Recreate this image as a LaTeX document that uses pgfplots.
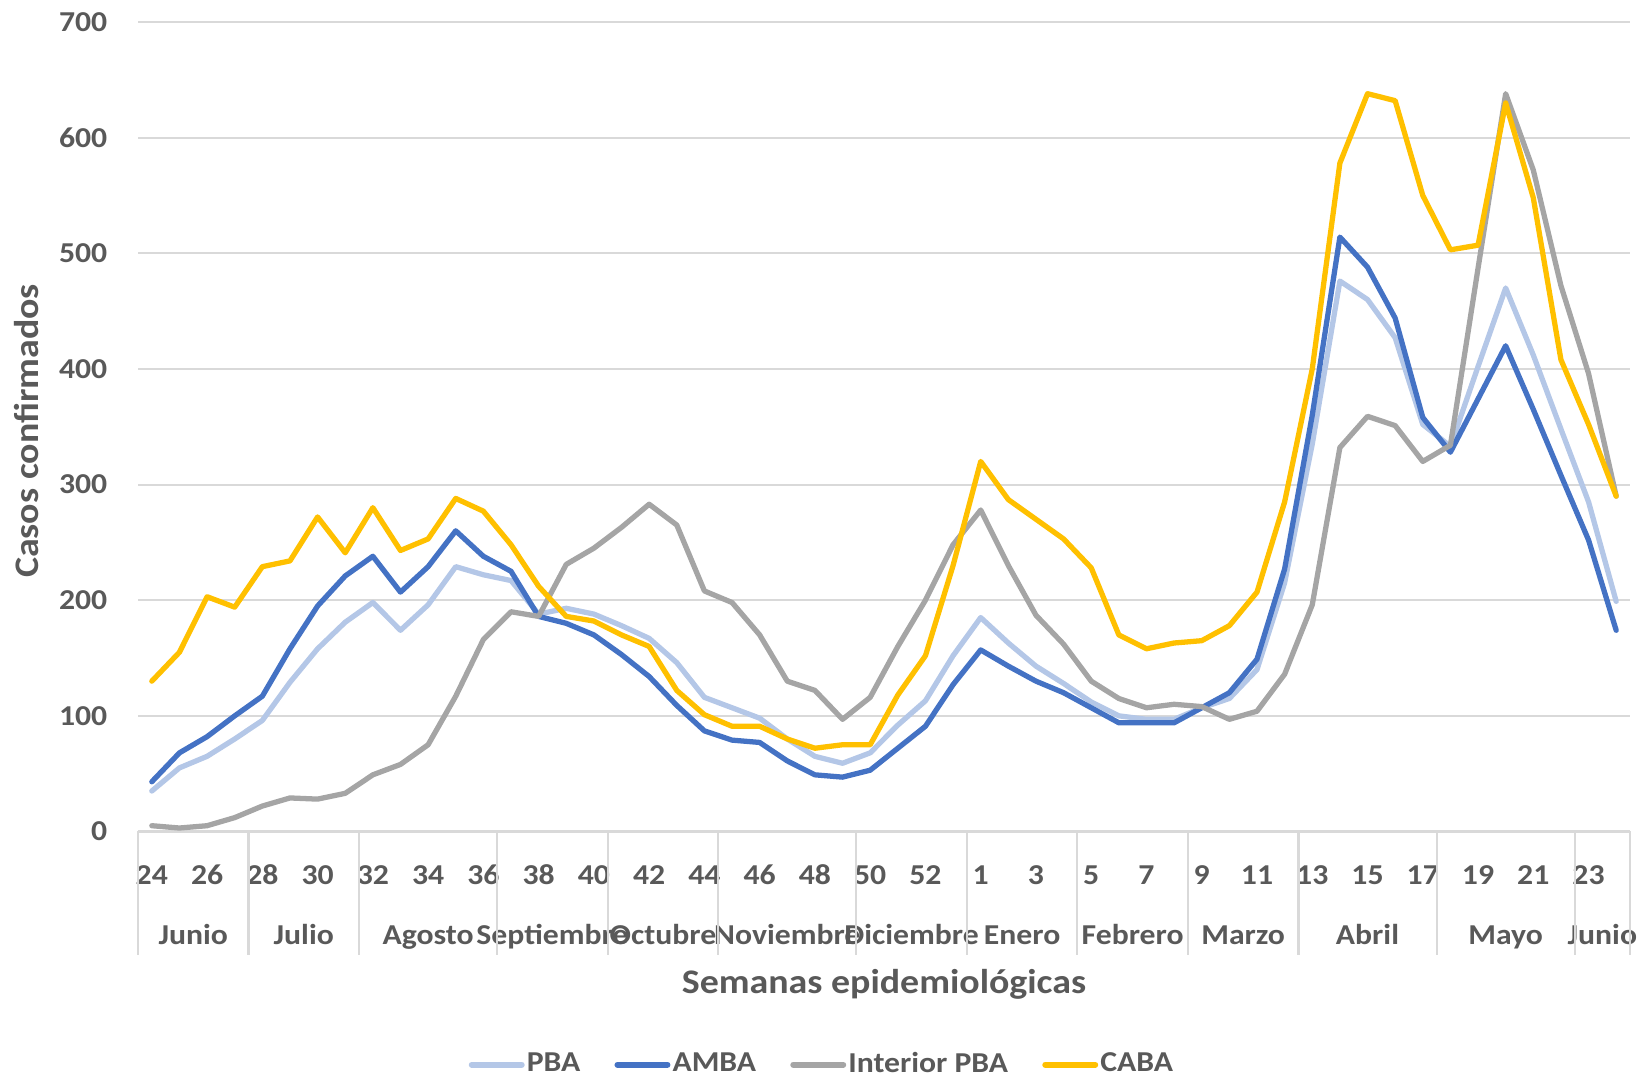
\documentclass[border=0pt]{standalone}
\usepackage{fontspec}
\setmainfont{Carlito}[FakeStretch=1.1]
\usepackage{pgfplots}
\usepackage{pgfplotstable}
\pgfplotsset{compat=1.18}
\definecolor{txt}{HTML}{595959}
\definecolor{gridc}{HTML}{D9D9D9}
\definecolor{cPBA}{HTML}{B4C7E7}
\definecolor{cAMBA}{HTML}{4472C4}
\definecolor{cINT}{HTML}{A5A5A5}
\definecolor{cCABA}{HTML}{FFC000}

\pgfplotstableread{
i  PBA AMBA INT CABA
0  35  43   5   130
1  55  68   3   155
2  65  82   5   203
3  80  100  12  194
4  96  117  22  229
5  129 158  29  234
6  158 195  28  272
7  181 221  33  241
8  198 238  49  280
9  174 207  58  243
10 196 229  75  253
11 229 260  117 288
12 222 238  166 277
13 217 225  190 248
14 188 186  186 212
15 193 180  231 186
16 188 170  245 182
17 178 153  263 170
18 167 134  283 160
19 146 109  265 122
20 116 87   208 101
21 107 79   198 91
22 98  77   170 91
23 80  61   130 80
24 65  49   122 72
25 59  47   97  75
26 68  53   116 75
27 92  72   160 118
28 113 91   200 152
29 152 127  248 230
30 185 157  278 320
31 163 143  230 287
32 143 130  187 270
33 128 120  162 253
34 112 107  130 228
35 100 94   115 170
36 97  94   107 158
37 97  94   110 163
38 107 107  108 165
39 115 120  97  178
40 140 149  104 207
41 215 227  136 285
42 335 360  196 400
43 476 514  332 578
44 460 488  359 638
45 427 444  351 632
46 352 358  320 550
47 333 328  334 503
48 402 374  487 507
49 470 420  638 630
50 412 365  572 548
51 348 308  472 408
52 285 252  396 352
53 199 174  290 290
}\data

\begin{document}
\begin{tikzpicture}
\begin{axis}[
  at={(13.8mm,24.55mm)}, anchor=south west,
  scale only axis, width=149.2mm, height=80.95mm,
  xmin=-0.5, xmax=53.5, ymin=0, ymax=700,
  clip=false,
  axis line style={draw=none},
  tick style={draw=none},
  major tick length=0pt,
  ymajorgrids,
  major grid style={gridc, line width=0.6pt},
  ytick={0,100,...,700},
  xtick={0,2,...,52},
  xticklabels={24,26,28,30,32,34,36,38,40,42,44,46,48,50,52,1,3,5,7,9,11,13,15,17,19,21,23},
  extra x ticks={1.5,5.5,10,14.5,18.5,23,27.5,31.5,35.5,39.5,44,49,52.5},
  extra x tick labels={Junio,Julio,Agosto,Septiembre,Octubre,Noviembre,Diciembre,Enero,Febrero,Marzo,Abril,Mayo,Junio},
  extra x tick style={grid=none, major tick length=0pt, xticklabel style={yshift=-6.0mm}},
  /pgf/number format/assume math mode=true,
  every tick label/.append style={font=\bfseries\fontsize{8.2}{10}\selectfont, text=txt},
  xticklabel style={anchor=base, inner sep=0pt, yshift=-5.35mm},
  yticklabel style={anchor=east, inner sep=0pt, xshift=-3mm},
  xlabel={Semanas epidemiológicas},
  ylabel={Casos confirmados},
  every axis x label/.style={at={(axis description cs:0.5,-0.2007)}, anchor=base, font=\bfseries\fontsize{9.8}{12}\selectfont, text=txt, inner sep=0pt},
  every axis y label/.style={at={(axis description cs:-0.0668,0.4948)}, rotate=90, anchor=base, font=\bfseries\fontsize{9.8}{12}\selectfont, text=txt, inner sep=0pt},
  legend columns=-1,
  legend style={at={(axis description cs:0.4584,-0.2880)}, anchor=center, draw=none, fill=none,
    font=\bfseries\fontsize{8.2}{10}\selectfont, text=txt,
    nodes={inner sep=0.6pt},
    /tikz/every even column/.append style={column sep=3.2mm}},
  legend image code/.code={\draw[#1, line width=1.7pt, line cap=round] (0mm,0mm) -- (5.0mm,0mm);},
  every axis plot/.append style={line width=1.5pt, line join=round, line cap=round, mark=none},
]
\addplot[cPBA] table[x=i, y=PBA] {\data};
\addlegendentry{PBA}
\addplot[cAMBA] table[x=i, y=AMBA] {\data};
\addlegendentry{AMBA}
\addplot[cINT] table[x=i, y=INT] {\data};
\addlegendentry{Interior PBA}
\addplot[cCABA] table[x=i, y=CABA] {\data};
\addlegendentry{CABA}
\pgfplotsinvokeforeach{-0.5,3.5,7.5,12.5,16.5,20.5,25.5,29.5,33.5,37.5,41.5,46.5,51.5,53.5}{
  \draw[gridc, line width=0.6pt] (axis cs:#1,0) -- ([yshift=-12.35mm]axis cs:#1,0);
}
\end{axis}
\pgfresetboundingbox
\useasboundingbox (0,0) rectangle (164.2mm,107.7mm);
\end{tikzpicture}
\end{document}
